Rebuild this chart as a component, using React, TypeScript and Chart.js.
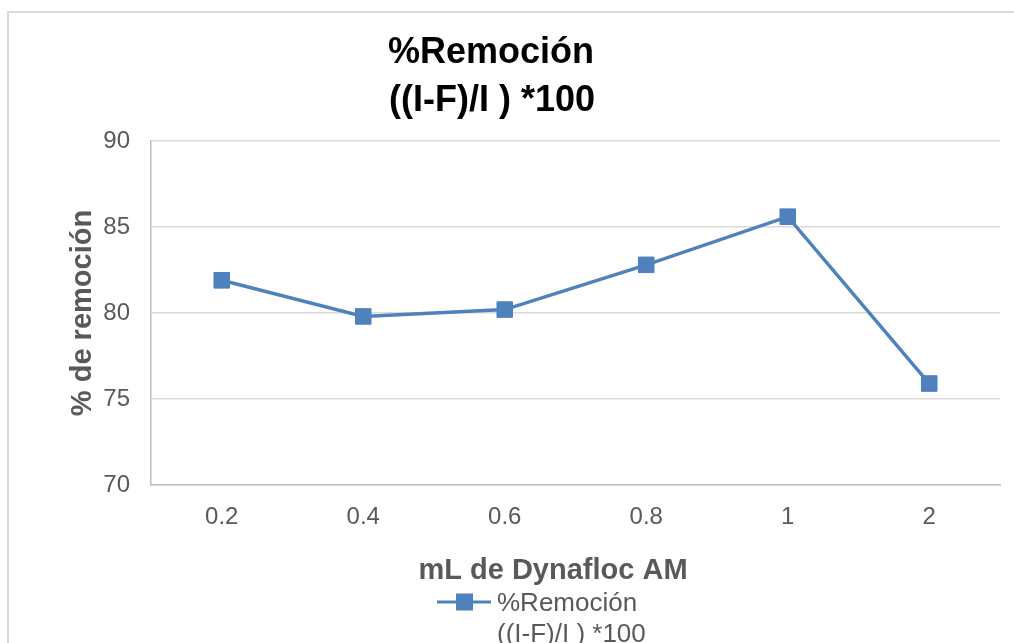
import React, { useEffect, useRef } from "react";
import { Chart, registerables } from "chart.js";

Chart.register(...registerables);

const categories: string[] = ["0.2", "0.4", "0.6", "0.8", "1", "2"];
const remocion: number[] = [81.9, 79.8, 80.2, 82.8, 85.6, 75.9];
const titleLines: string[] = ["%Remoción", "((I-F)/I ) *100"];
const seriesLabel: string[] = ["%Remoción", "((I-F)/I ) *100"];
const xAxisTitle = "mL de Dynafloc AM";
const yAxisTitle = "% de remoción";
const yMin = 70;
const yMax = 90;
const yStep = 5;

const BLUE = "#4f81bd";
const GRAY_TEXT = "#595959";
const FONT = "'Liberation Sans', Arial, sans-serif";

const decorPlugin = {
  id: "decor",
  beforeDraw(chart: any) {
    const ctx = chart.ctx;
    ctx.save();
    ctx.strokeStyle = "#d9d9d9";
    ctx.lineWidth = 2;
    ctx.strokeRect(8, 12, 3000, 3000);
    ctx.restore();
  },
  afterDraw(chart: any) {
    const ctx = chart.ctx;
    ctx.save();
    // Title
    ctx.fillStyle = "#000000";
    ctx.font = `bold 36px ${FONT}`;
    ctx.textAlign = "center";
    ctx.textBaseline = "alphabetic";
    ctx.fillText(titleLines[0], 491, 63);
    ctx.fillText(titleLines[1], 492, 111);
    // X axis title
    ctx.fillStyle = GRAY_TEXT;
    ctx.font = `bold 29px ${FONT}`;
    ctx.fillText(xAxisTitle, 553, 579);
    // Legend
    ctx.strokeStyle = BLUE;
    ctx.lineWidth = 3;
    ctx.beginPath();
    ctx.moveTo(437, 602);
    ctx.lineTo(491, 602);
    ctx.stroke();
    ctx.fillStyle = BLUE;
    ctx.fillRect(464.5 - 8.5, 602 - 8.5, 17, 17);
    ctx.fillStyle = GRAY_TEXT;
    ctx.font = `26px ${FONT}`;
    ctx.textAlign = "left";
    ctx.fillText(seriesLabel[0], 497, 611);
    ctx.fillText(seriesLabel[1], 497, 642);
    ctx.restore();
  },
};

export default function App() {
  const canvasRef = useRef<HTMLCanvasElement | null>(null);

  useEffect(() => {
    if (!canvasRef.current) return;
    const chart = new Chart(canvasRef.current, {
      type: "line",
      data: {
        labels: categories,
        datasets: [
          {
            label: seriesLabel.join(" "),
            data: remocion,
            borderColor: BLUE,
            backgroundColor: BLUE,
            borderWidth: 3.5,
            pointStyle: "rect",
            pointRadius: 11,
            pointBorderWidth: 1,
            pointBorderColor: BLUE,
            pointBackgroundColor: BLUE,
            tension: 0,
          },
        ],
      },
      options: {
        responsive: false,
        animation: false,
        devicePixelRatio: 1,
        layout: { padding: { left: 40, right: 14, top: 141, bottom: 59 } },
        plugins: {
          legend: { display: false },
          title: { display: false },
          tooltip: { enabled: false },
        },
        scales: {
          x: {
            type: "category",
            offset: true,
            grid: { display: false, drawTicks: false },
            border: { display: true, color: "#bfbfbf", width: 1.5 },
            ticks: {
              color: GRAY_TEXT,
              font: { family: FONT, size: 24 },
              padding: 18,
              maxRotation: 0,
            },
            afterFit(scale: any) {
              scale.height = 99;
            },
          },
          y: {
            min: yMin,
            max: yMax,
            grid: { color: "#d9d9d9", lineWidth: 1.5, drawTicks: false },
            border: { display: true, color: "#bfbfbf", width: 1.5 },
            ticks: {
              stepSize: yStep,
              color: GRAY_TEXT,
              font: { family: FONT, size: 24 },
              padding: 21,
            },
            title: {
              display: true,
              text: yAxisTitle,
              color: GRAY_TEXT,
              font: { family: FONT, size: 29, weight: "bold" },
              padding: { top: 26, bottom: 0 },
            },
            afterFit(scale: any) {
              scale.width = 111;
            },
          },
        },
      },
      plugins: [decorPlugin],
    });
    return () => chart.destroy();
  }, []);

  return (
    <div
      style={{
        position: "fixed",
        left: 0,
        top: 0,
        width: 1014,
        height: 643,
        overflow: "hidden",
        background: "#ffffff",
      }}
    >
      <canvas ref={canvasRef} width={1014} height={643} style={{ display: "block" }} />
    </div>
  );
}
